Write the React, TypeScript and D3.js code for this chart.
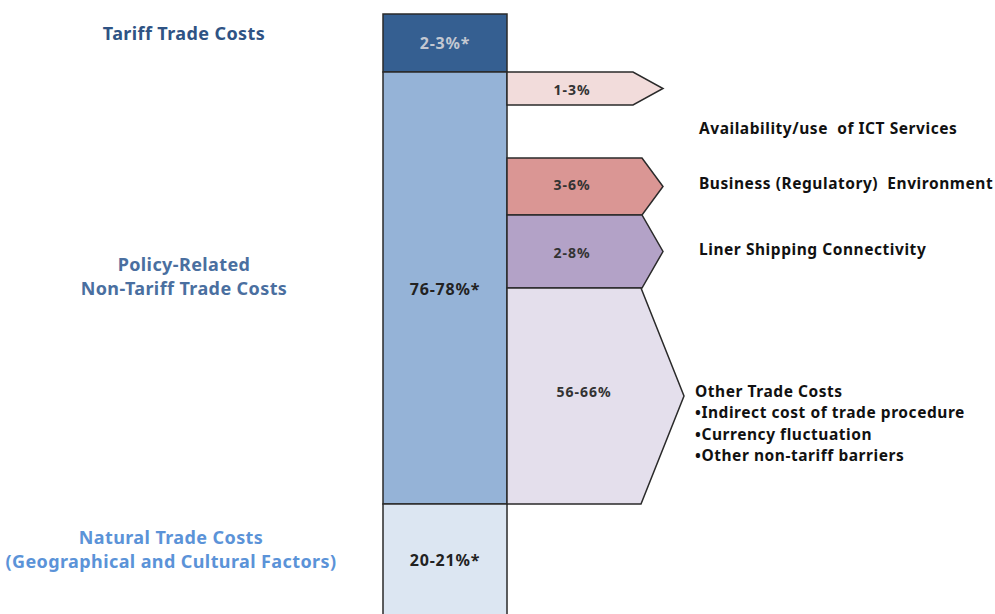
import React from "react";
import * as d3 from "d3";

// ---- data ----
const mainCategories = ["Tariff Trade Costs", "Policy-Related Non-Tariff Trade Costs", "Natural Trade Costs"];
const mainLabelLines = [["Tariff Trade Costs"], ["Policy-Related", "Non-Tariff Trade Costs"], ["Natural Trade Costs", "(Geographical and Cultural Factors)"]];
const mainValues = ["2-3%*", "76-78%*", "20-21%*"];
const mainMid = [2.5, 77, 20.5];

const subCategories = ["ICT", "Business", "Liner", "Other"];
const subValues = ["1-3%", "3-6%", "2-8%", "56-66%"];
const subLabelLines = [
  ["Availability/use  of ICT Services"],
  ["Business (Regulatory)  Environment"],
  ["Liner Shipping Connectivity"],
  ["Other Trade Costs", "•Indirect cost of trade procedure", "•Currency fluctuation", "•Other non-tariff barriers"],
];

// ---- style ----
const mainFill = ["#355f91", "#95b3d7", "#dce6f2"];
const mainText = ["#c3c8d2", "#222", "#222"];
const mainLabelColor = ["#2f5384", "#4a6fa0", "#5b93d8"];
const subFill = ["#f2dcdb", "#da9694", "#b3a2c7", "#e4dfec"];
const FONT = "'Noto Sans', 'Open Sans', sans-serif";

export default function App() {
  // piecewise vertical scale of the main stacked bar (cumulative shares)
  const cum = [0];
  mainMid.forEach((v) => cum.push(cum[cum.length - 1] + v));
  const y = d3.scaleLinear().domain(cum).range([14, 72, 504, 640]);
  const x = d3.scaleBand().domain(["bar"]).range([383, 507]).padding(0);

  // sub-arrow band placement within policy segment
  const subBand = d3
    .scaleOrdinal<string, [number, number]>()
    .domain(subCategories)
    .range([
      [y(cum[1]), 105],
      [158, 215],
      [215, 288],
      [288, y(cum[2])],
    ]);
  const subBodyRight = d3.scaleOrdinal<string, number>().domain(subCategories).range([633, 642, 642, 641]);
  const subTip = d3.scaleOrdinal<string, number>().domain(subCategories).range([663, 663, 663, 684]);
  const subLabelY = d3.scaleOrdinal<string, number>().domain(subCategories).range([128, 183, 249, 391]);
  const subLabelX = d3.scaleOrdinal<string, number>().domain(subCategories).range([699, 699, 699, 695]);
  const subTextY = d3.scaleOrdinal<string, number>().domain(subCategories).range([89, 184, 252, 391]);
  const subTextX = d3.scaleOrdinal<string, number>().domain(subCategories).range([572, 572, 572, 584]);

  const x0 = x("bar")!;
  const bw = x.bandwidth();

  const mainLabelY = [33, 264, 537];
  const mainLabelX = [184, 184, 171];
  const mainValueY = [43, 289, 560];

  return (
    <svg width={995} height={614} style={{ position: "absolute", left: 0, top: 0, background: "#fff" }} fontFamily={FONT}>
      {mainCategories.map((c, i) => (
        <rect key={c} x={x0} y={y(cum[i])} width={bw} height={y(cum[i + 1]) - y(cum[i])} fill={mainFill[i]} stroke="#2a2a2a" strokeWidth={1.5} />
      ))}
      {subCategories.map((c, i) => {
        const [t, b] = subBand(c);
        const r = subBodyRight(c);
        const tip = subTip(c);
        const path = d3.path();
        path.moveTo(x0 + bw, t);
        path.lineTo(r, t);
        path.lineTo(tip, (t + b) / 2);
        path.lineTo(r, b);
        path.lineTo(x0 + bw, b);
        path.closePath();
        return (
          <g key={c}>
            <path d={path.toString()} fill={subFill[i]} stroke="#2a2a2a" strokeWidth={1.5} />
            <text x={subTextX(c)} y={subTextY(c)} textAnchor="middle" dominantBaseline="central" fontSize={14} letterSpacing={1} fontWeight="bold" fill="#333">
              {subValues[i]}
            </text>
            {subLabelLines[i].map((ln, j) => (
              <text key={j} x={subLabelX(c)} y={subLabelY(c) + j * 21.3} dominantBaseline="central" fontSize={15.5} letterSpacing={0.55} fontWeight="bold" fill="#111" style={{ whiteSpace: "pre" }}>
                {ln}
              </text>
            ))}
          </g>
        );
      })}
      {mainCategories.map((c, i) => (
        <g key={c + "l"}>
          <text x={x0 + bw / 2} y={mainValueY[i]} textAnchor="middle" dominantBaseline="central" fontSize={16} letterSpacing={0.8} fontWeight="bold" fill={mainText[i]}>
            {mainValues[i]}
          </text>
          {mainLabelLines[i].map((ln, j) => (
            <text key={j} x={mainLabelX[i]} y={mainLabelY[i] + j * 23.5} textAnchor="middle" dominantBaseline="central" fontSize={18} letterSpacing={0.4} fontWeight="bold" fill={mainLabelColor[i]}>
              {ln}
            </text>
          ))}
        </g>
      ))}
    </svg>
  );
}
